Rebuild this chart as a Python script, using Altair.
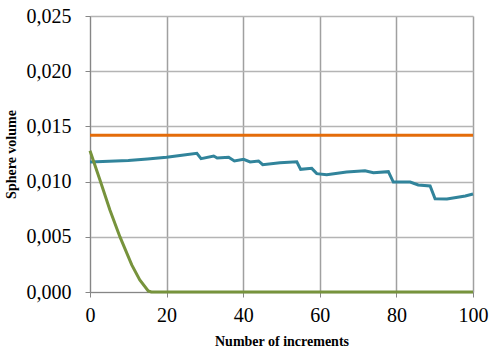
import altair as alt
import pandas as pd

# Orange constant series
orange_x = [0, 100]
orange_y = [0.0142, 0.0142]

# Blue series
blue_x = [0, 5, 10, 15, 20, 24, 27.9, 29, 32.3, 33.2, 36.2, 37.7, 40.1, 41.8, 44, 45.1, 49.6, 54, 55, 57.9,
          59.2, 61.8, 67, 71.8, 74, 77.9, 79.2, 83.6, 85.7, 88.8, 90.1, 93.2, 98, 100]
blue_y = [0.01178, 0.01185, 0.01192, 0.01205, 0.0122, 0.01238, 0.01256, 0.01208, 0.01232, 0.01214, 0.0122,
          0.01187, 0.01202, 0.01178, 0.01187, 0.01153, 0.0117, 0.0118, 0.01111, 0.0112,
          0.01072, 0.01063, 0.01087, 0.01099, 0.01081, 0.0109, 0.00996, 0.00996, 0.00969, 0.0096,
          0.00845, 0.00842, 0.0087, 0.00888]

# Green series
green_x = [0, 2.6, 5.2, 7.8, 10.9, 13, 15.2, 16, 100]
green_y = [0.0128, 0.01014, 0.00743, 0.00501, 0.00245, 0.00109, 0.0001, 0.0, 0.0]

rows = []
for name, xs, ys in [("A", orange_x, orange_y), ("B", blue_x, blue_y), ("C", green_x, green_y)]:
    for i, (x, y) in enumerate(zip(xs, ys)):
        rows.append({"series": name, "x": x, "y": y, "order": i})
df = pd.DataFrame(rows)

font = "Liberation Serif"

chart = alt.Chart(df).mark_line(strokeWidth=3).encode(
    x=alt.X("x:Q", scale=alt.Scale(domain=[0, 100], nice=False),
            axis=alt.Axis(title="Number of increments", values=[0, 20, 40, 60, 80, 100],
                          labelFontSize=20, titleFontSize=14, titleFontWeight="bold",
                          labelFont=font, titleFont=font, labelColor="#000", titleColor="#000",
                          labelFlush=False, labelOverlap=False,
                          tickSize=5, labelPadding=8, titlePadding=9,
                          domainColor="#868686", tickColor="#868686",
                          gridColor="#A0A0A0", gridWidth=1.5)),
    y=alt.Y("y:Q", scale=alt.Scale(domain=[0, 0.025], nice=False),
            axis=alt.Axis(title="Sphere volume", values=[0, 0.005, 0.01, 0.015, 0.02, 0.025],
                          labelExpr="replace(format(datum.value, '.3f'), '.', ',')",
                          labelFontSize=20, titleFontSize=14, titleFontWeight="bold",
                          labelFont=font, titleFont=font, labelColor="#000", titleColor="#000",
                          labelFlush=False, labelOverlap=False,
                          tickSize=5, labelPadding=14, titlePadding=8,
                          domainColor="#868686", tickColor="#868686",
                          gridColor="#B4B4B4", gridWidth=1.5)),
    color=alt.Color("series:N", scale=alt.Scale(domain=["A", "B", "C"],
                                                range=["#E46C0A", "#31849B", "#77933C"]),
                    legend=None),
    order="order:Q",
).properties(
    width=383, height=276,
    background="white",
    autosize=alt.AutoSizeParams(type="none"),
    padding={"left": 90, "top": 16, "right": 17, "bottom": 59},
).configure_view(stroke=None)

chart.save("out.html", embed_options={"renderer": "svg", "actions": False})
